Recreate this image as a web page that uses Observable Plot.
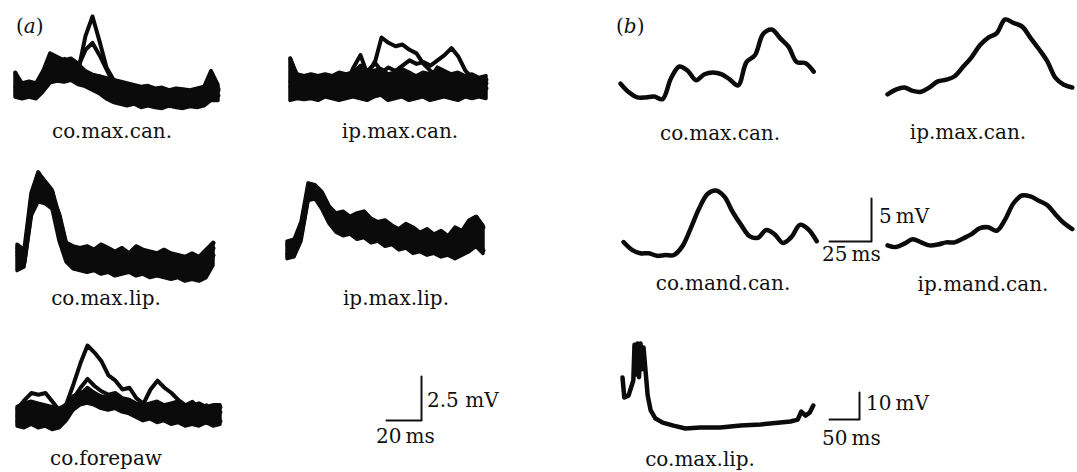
<!DOCTYPE html>
<html><head><meta charset="utf-8">
<script src="https://cdn.jsdelivr.net/npm/d3@7"></script>
<script src="https://cdn.jsdelivr.net/npm/@observablehq/plot@0.6"></script>
<style>
body{margin:0;background:#fff}
#fig{position:relative;width:1077px;height:472px;overflow:hidden;font-family:"DejaVu Serif",serif;color:#111}
.lbl{position:absolute;font-size:20px;line-height:1;white-space:nowrap}
.panel{position:absolute}
.panel svg{overflow:visible;background:transparent}
</style></head>
<body><div id="fig"></div>
<script>
// ---- data (mV), sampled every stepA ms for panel (a), stepB ms for panel (b)
const stepA = 4;
const stepB = 5;

// panel (a): individual sweeps that stand out, plus the envelope (lo/hi) of the dense band of superimposed sweeps
const aCoMaxCan = [
  [1.3,0.4,0.5,0.3,1.2,2.2,2.0,1.9,1.8,1.5,3.4,4.5,3.1,1.6,0.9,0.6,0.4,0.1,0.2,0.0,0.1,-0.2,0.0,-0.3,-0.1,-0.2,0.0,-0.1,1.3,0.3],
  [0.3,0.6,0.3,0.5,1.4,2.1,1.8,2.1,1.6,1.7,2.6,3.0,2.3,1.5,0.7,0.3,0.5,0.2,0.0,0.2,-0.1,0.1,-0.2,0.0,-0.3,0.0,-0.2,0.1,0.9,0.4],
  [0.5,0.2,0.4,0.1,1.0,1.8,1.6,1.4,1.3,1.0,0.8,0.9,1.1,0.6,0.5,0.0,-0.2,-0.3,-0.1,-0.4,-0.5,-0.3,-0.6,-0.4,-0.5,-0.3,-0.6,-0.4,0.6,0.0]
];
const aCoMaxCanLo = [-0.1,-0.2,-0.1,-0.2,0.2,0.7,0.8,0.75,0.85,0.6,0.5,0.3,0.1,-0.2,-0.4,-0.5,-0.6,-0.5,-0.7,-0.6,-0.7,-0.75,-0.6,-0.7,-0.75,-0.65,-0.7,-0.6,-0.3,-0.3];
const aCoMaxCanHi = [1.3,0.7,0.8,0.7,1.4,2.4,2.2,2.0,2.1,1.8,1.4,1.2,1.1,1.0,0.9,0.8,0.7,0.6,0.5,0.55,0.4,0.45,0.3,0.4,0.35,0.3,0.4,0.5,1.4,0.6];

const aIpMaxCan = [
  [1.7,0.5,0.6,0.4,0.7,0.5,0.6,0.8,0.6,0.9,1.3,1.0,1.4,2.9,2.6,2.4,2.5,2.2,2.0,1.4,1.0,0.8,0.6,0.7,0.5,0.4,0.6,0.5,0.3],
  [0.4,0.2,0.3,0.1,0.4,0.2,0.5,0.3,0.6,0.4,0.7,0.5,0.8,0.9,1.2,1.0,1.3,1.6,1.4,1.5,1.3,1.6,1.9,2.3,1.8,1.0,0.6,0.4,0.5],
  [0.1,0.0,-0.1,0.2,0.0,0.1,-0.2,0.1,0.3,1.2,1.9,0.8,1.5,1.0,0.4,0.7,1.1,0.9,0.5,0.2,0.6,1.2,1.0,0.8,0.4,0.1,-0.1,0.1,0.0]
];
const aIpMaxCanLo = [-0.7,-0.6,-0.65,-0.6,-0.7,-0.5,-0.6,-0.7,-0.6,-0.5,-0.6,-0.7,-0.5,-0.4,-0.7,-0.6,-0.5,-0.7,-0.6,-0.5,-0.7,-0.6,-0.5,-0.6,-0.7,-0.5,-0.6,-0.5,-0.6];
const aIpMaxCanHi = [1.7,0.8,0.7,0.8,0.7,0.8,0.7,0.9,0.8,0.9,1.0,0.9,1.0,1.1,0.8,0.9,0.8,0.9,0.7,0.9,0.8,1.0,0.9,0.8,0.9,0.7,0.8,0.6,0.7];

const aCoMaxLip = [
  [0.8,0.5,3.8,5.1,4.3,4.0,2.2,0.9,0.7,0.8,0.5,0.7,0.9,0.6,0.5,0.7,0.4,0.8,0.6,0.5,0.3,0.6,0.4,0.3,0.2,0.4,0.1,0.6,1.1],
  [0.4,0.2,3.2,4.6,4.5,3.7,2.7,1.0,0.3,0.4,0.2,0.3,0.1,0.3,0.0,0.2,0.1,0.3,0.0,-0.1,0.1,-0.2,0.0,-0.1,-0.3,-0.1,-0.4,0.0,0.8],
  [0.6,0.0,2.8,4.3,3.9,3.3,1.6,0.4,0.0,-0.2,-0.1,-0.3,0.0,-0.4,-0.2,-0.3,-0.5,-0.2,-0.4,-0.6,-0.3,-0.5,-0.7,-0.4,-0.6,-0.8,-0.6,-0.5,0.4]
];
const aCoMaxLipLo = [-0.5,-0.3,2.6,3.4,3.3,3.0,1.2,0.0,-0.4,-0.5,-0.6,-0.5,-0.7,-0.6,-0.8,-0.7,-0.6,-0.8,-0.7,-0.9,-0.8,-0.9,-1.0,-0.9,-1.1,-1.0,-1.1,-0.9,-0.2];
const aCoMaxLipHi = [1.0,0.7,3.9,5.1,4.6,4.1,2.7,1.1,0.9,0.8,0.9,0.7,1.0,0.8,0.6,0.8,0.5,0.9,0.7,0.6,0.5,0.7,0.5,0.4,0.3,0.5,0.3,0.7,1.1];

const aIpMaxLip = [
  [0.3,0.5,1.5,3.7,3.6,3.2,2.4,2.0,2.1,1.8,2.0,2.2,1.7,1.5,1.6,1.3,1.1,1.4,1.2,0.9,1.1,0.8,1.0,0.7,1.2,1.0,1.6,1.9,1.3],
  [-0.2,0.2,0.9,3.1,3.3,2.6,1.7,1.2,1.0,1.1,0.8,0.9,0.6,0.7,0.4,0.5,0.2,0.3,0.0,0.1,-0.1,0.0,-0.2,0.1,-0.3,0.0,0.2,0.5,0.0]
];
const aIpMaxLipLo = [-0.5,-0.4,0.5,2.8,2.9,2.3,1.5,1.0,0.8,0.9,0.6,0.7,0.4,0.5,0.2,0.3,0.0,0.1,-0.2,-0.1,-0.3,-0.2,-0.4,-0.3,-0.5,-0.3,-0.1,0.2,-0.2];
const aIpMaxLipHi = [0.5,0.6,1.6,3.8,3.7,3.3,2.5,2.1,2.2,1.9,2.1,2.2,1.8,1.6,1.7,1.4,1.2,1.5,1.3,1.0,1.2,0.9,1.1,0.8,1.3,1.1,1.7,1.9,1.4];

const aCoForepaw = [
  [0.4,0.9,1.3,1.2,1.3,0.8,0.3,0.7,1.8,3.0,4.0,3.6,3.1,2.3,2.0,1.5,1.6,1.0,0.7,1.5,2.0,1.6,1.3,0.9,0.6,0.8,0.4,0.6,0.3,0.5],
  [0.0,-0.3,0.2,-0.1,0.0,-0.4,-0.6,0.3,1.0,1.6,2.1,1.7,1.4,1.2,1.3,1.0,0.9,0.6,0.4,0.5,0.7,0.4,0.3,0.6,0.2,0.1,0.4,0.0,0.3,0.2],
  [-0.3,-0.5,-0.2,-0.6,-0.4,-0.7,-0.5,0.0,0.7,1.2,1.6,1.3,0.9,0.8,0.9,0.6,0.5,0.3,0.1,0.2,0.0,-0.2,0.1,-0.1,-0.3,0.0,-0.2,-0.4,-0.1,-0.3]
];
const aCoForepawLo = [-0.6,-0.7,-0.5,-0.7,-0.6,-0.8,-0.7,-0.3,0.3,0.6,0.7,0.6,0.4,0.3,0.4,0.2,0.1,-0.1,-0.3,-0.2,-0.4,-0.3,-0.5,-0.4,-0.6,-0.5,-0.6,-0.4,-0.6,-0.5];
const aCoForepawHi = [0.5,0.7,0.8,0.7,0.6,0.5,0.4,0.6,1.1,1.3,1.4,1.3,1.1,1.0,1.1,0.9,0.9,0.7,0.6,0.7,0.8,0.6,0.7,0.8,0.5,0.6,0.7,0.5,0.6,0.6];

// panel (b): averaged responses
const bCoMaxCan = [1.6,0.6,0.0,0.0,0.1,-0.2,2.2,3.6,3.1,2.0,2.7,2.9,2.7,2.1,1.4,4.1,4.9,7.4,7.9,6.9,5.9,4.1,4.0,3.0];
const bIpMaxCan = [-0.2,0.35,0.6,0.2,0.1,0.6,1.3,1.5,1.9,3.0,4.1,5.5,6.4,6.9,8.5,8.1,7.7,6.4,5.1,3.7,1.7,0.9,0.6];
const bCoMandCan = [1.4,0.5,0.1,0.1,-0.2,-0.1,-0.1,0.9,3.0,5.3,7.0,7.4,6.7,4.9,3.4,2.1,1.9,2.8,2.3,1.3,2.0,3.4,2.9,1.5];
const bIpMandCan = [0.0,-0.2,0.2,0.7,0.35,0.0,0.1,0.35,0.35,0.8,1.3,2.0,2.1,1.7,3.0,4.9,5.8,5.7,5.2,4.7,3.6,2.6,1.9];
const bCoMaxLipT = [0,3,10,18,20,22.5,25,27.5,30,32.5,35,42,47,55,67,85,105,130,163,197,230,263,280,292,298,305,312,318];
const bCoMaxLipV = [18.9,11.5,12.2,17.8,31,20,31.5,19,31.5,22,30,12.2,6.7,3.7,2.2,1.1,0.0,0.4,0.4,1.1,1.5,2.2,2.6,3.3,6.3,4.8,5.9,8.5];

const traceNames = ["co.max.can.","ip.max.can.","co.max.lip.","ip.max.lip.","co.forepaw",
                    "co.max.can.","ip.max.can.","co.mand.can.","ip.mand.can.","co.max.lip."];
const barMs = [20, 25, 50];
const barMv = [2.5, 5, 10];

// ---- layout (pixels) ----
const SA = {pxMs:1.75, pxMv:17.6}, SB = {pxMs:1.68, pxMv:8.6}, SC = {pxMs:0.6, pxMv:2.7};
const toRows = (sweeps, step) => sweeps.flatMap((s, k) => s.map((v, i) => ({t: i*step, v, sweep: k})));
const single = (vals, step) => vals.map((v, i) => ({t: i*step, v, sweep: 0}));
const band = (lo, hi, step) => lo.map((l, i) => ({t: i*step, lo: l, hi: hi[i]}));
const panels = [
  {rows: toRows(aCoMaxCan, stepA),  band: band(aCoMaxCanLo, aCoMaxCanHi, stepA),   left:15,  base:95,  ...SA, lx:112, ly:138},
  {rows: toRows(aIpMaxCan, stepA),  band: band(aIpMaxCanLo, aIpMaxCanHi, stepA),   left:290, base:88,  ...SA, lx:400, ly:138},
  {rows: toRows(aCoMaxLip, stepA),  band: band(aCoMaxLipLo, aCoMaxLipHi, stepA),   left:17,  base:262, ...SA, lx:106, ly:305},
  {rows: toRows(aIpMaxLip, stepA),  band: band(aIpMaxLipLo, aIpMaxLipHi, stepA),   left:287, base:250, ...SA, lx:396, ly:305},
  {rows: toRows(aCoForepaw, stepA), band: band(aCoForepawLo, aCoForepawHi, stepA), left:17,  base:415, ...SA, lx:106, ly:465},
  {rows: single(bCoMaxCan, stepB),  smooth: true, left:620, base:97,  ...SB, lx:720, ly:140},
  {rows: single(bIpMaxCan, stepB),  smooth: true, left:887, base:92,  ...SB, lx:968, ly:139},
  {rows: single(bCoMandCan, stepB), smooth: true, left:623, base:254, ...SB, lx:723, ly:290},
  {rows: single(bIpMandCan, stepB), smooth: true, left:887, base:245, ...SB, lx:983, ly:291},
  {rows: bCoMaxLipT.map((t, i) => ({t, v: bCoMaxLipV[i], sweep: 0})), left:622, base:428, ...SC, lx:700, ly:466}
];
const bars = [
  {left:386, base:420, ...SA, msX:376, msY:443, mvX:427, mvY:407},
  {left:829, base:241, ...SB, msX:822, msY:261, mvX:879, mvY:223},
  {left:829, base:419, ...SC, msX:822, msY:445, mvX:866, mvY:410}
];

const ink = "#0b0b0b";
const fig = document.getElementById("fig");
function place(node, left, top) {
  const d = document.createElement("div");
  d.className = "panel"; d.style.left = left + "px"; d.style.top = top + "px";
  d.appendChild(node); fig.appendChild(d);
}
function label(html, x, baseline, center) {
  const d = document.createElement("div");
  d.className = "lbl"; d.innerHTML = html;
  d.style.left = x + "px"; d.style.top = (baseline - 17) + "px";
  if (center) d.style.transform = "translateX(-50%)";
  fig.appendChild(d);
}
const pad = 4;
panels.forEach((p, i) => {
  const vals = p.rows.map(d => d.v).concat(p.band ? p.band.flatMap(d => [d.lo, d.hi]) : []);
  const [t0, t1] = d3.extent(p.rows, d => d.t);
  const [v0, v1] = d3.extent(vals);
  const marks = [];
  if (p.band) marks.push(Plot.areaY(p.band, {x: "t", y1: "lo", y2: "hi", fill: ink, stroke: ink, strokeWidth: 3.5, strokeLinejoin: "round"}));
  marks.push(Plot.line(p.rows, {x: "t", y: "v", z: "sweep", stroke: ink, strokeWidth: p.band ? 4 : 4.5,
      curve: p.smooth ? "catmull-rom" : "linear", strokeLinejoin: "round", strokeLinecap: "round"}));
  const chart = Plot.plot({
    width: (t1 - t0) * p.pxMs + 2*pad, height: (v1 - v0) * p.pxMv + 2*pad,
    margin: pad,
    x: {domain: [t0, t1], axis: null},
    y: {domain: [v0, v1], axis: null},
    marks
  });
  place(chart, p.left + t0*p.pxMs - pad, p.base - v1*p.pxMv - pad);
  label(traceNames[i], p.lx, p.ly, true);
});
bars.forEach((b, i) => {
  const ms = barMs[i], mv = barMv[i];
  const pts = [{t:0, v:0}, {t:ms, v:0}, {t:ms, v:mv}];
  const chart = Plot.plot({
    width: ms*b.pxMs + 2*pad, height: mv*b.pxMv + 2*pad, margin: pad,
    x: {domain: [0, ms], axis: null}, y: {domain: [0, mv], axis: null},
    marks: [Plot.line(pts, {x: "t", y: "v", stroke: "#111", strokeWidth: 2})]
  });
  place(chart, b.left - pad, b.base - mv*b.pxMv - pad);
  label(`${ms}&#8201;ms`, b.msX, b.msY, false);
  label(`${mv}${i === 0 ? " " : "&#8201;"}mV`, b.mvX, b.mvY, false);
});
label("(<i>a</i>)", 16, 33, false);
label("(<i>b</i>)", 616, 33, false);
</script>
</body></html>
